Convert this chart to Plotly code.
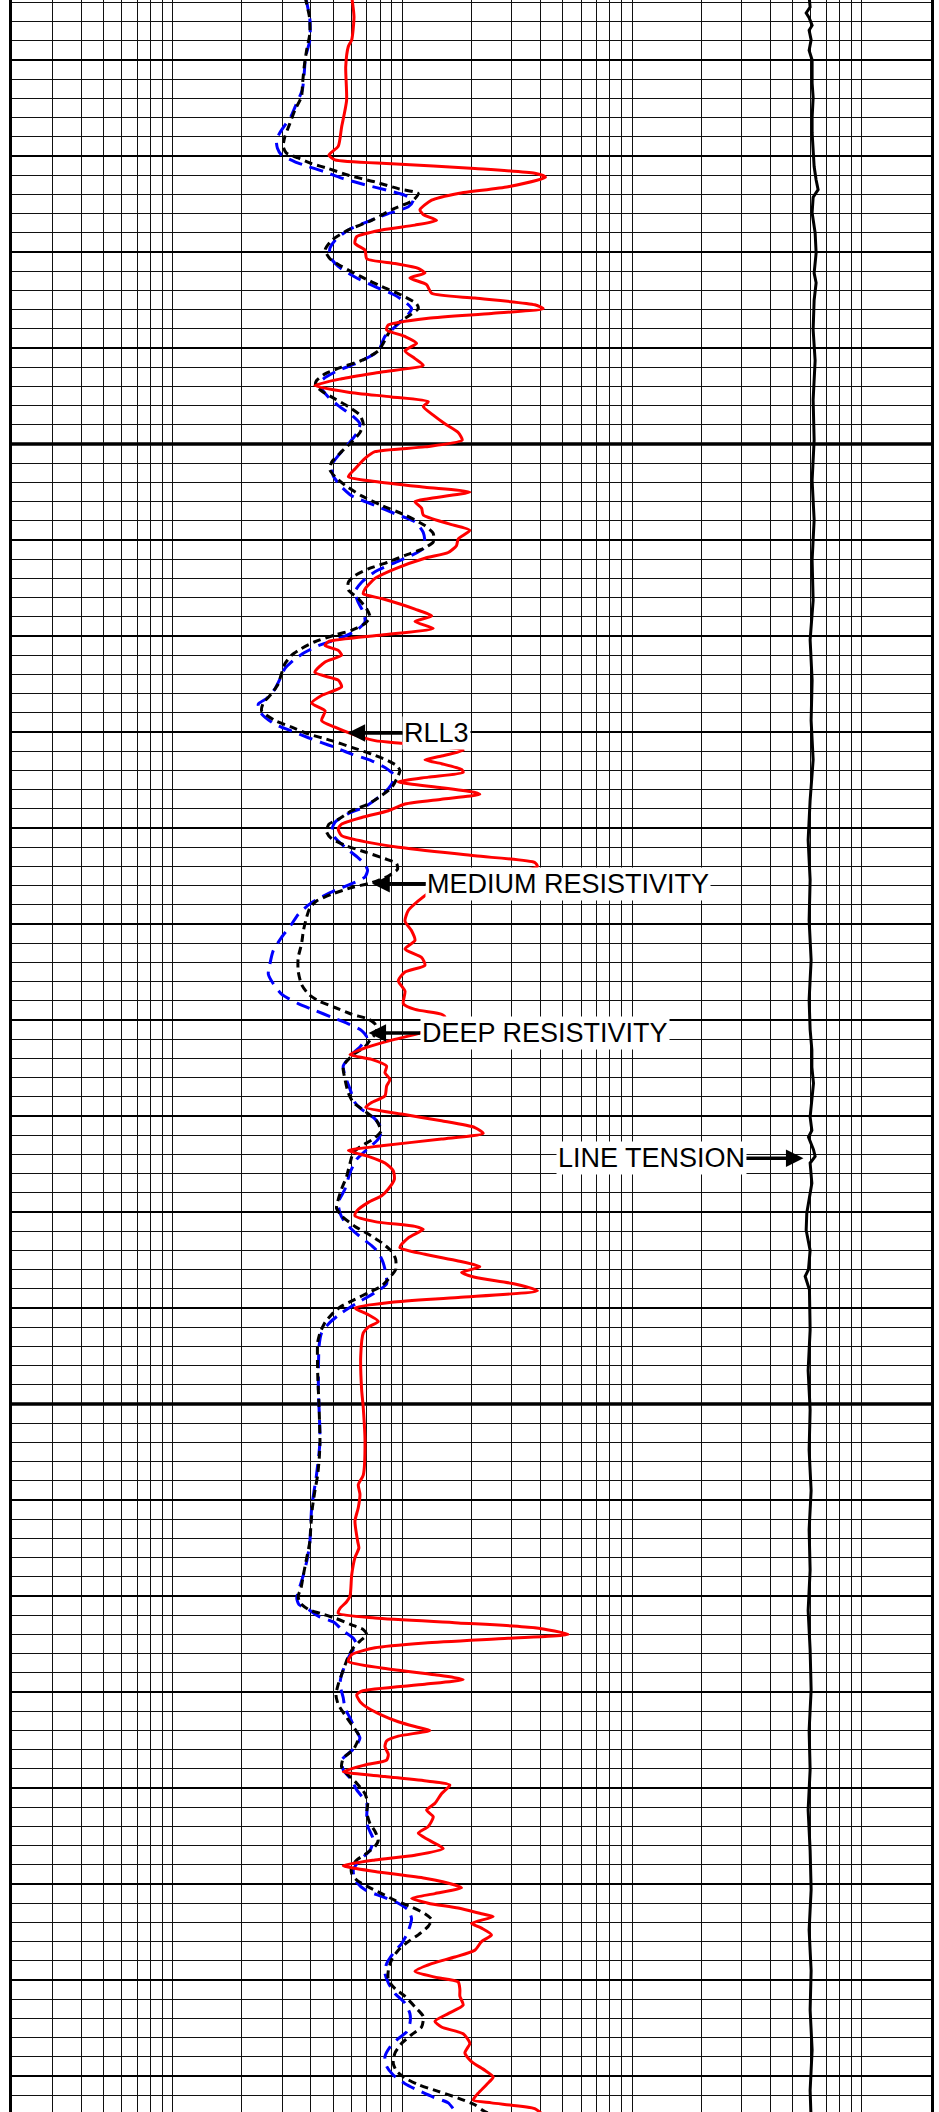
import math
import plotly.graph_objects as go

# ---------------- data (depth ft, value) ----------------
rll3 = [
    (5053.4, 60.2), (5055.5, 61.6), (5057.9, 60.2), (5058.6, 58.2), (5060.7, 56.7), (5064.2, 57.2),
    (5067.0, 54.4), (5069.0, 52.6), (5069.9, 47.9), (5070.4, 50.9), (5070.8, 89.8), (5071.3, 206.8),
    (5071.8, 377), (5072.2, 420), (5073.2, 288.8), (5073.9, 175), (5074.6, 134.1), (5075.6, 119.3),
    (5076.1, 123.3), (5076.7, 140.9), (5077.2, 113.5), (5077.7, 81.3), (5078.4, 63.3), (5079.1, 62.2),
    (5079.8, 68.8), (5080.7, 70.0), (5081.2, 92.9), (5081.7, 117.3), (5082.2, 125.4), (5082.7, 107.9),
    (5083.4, 127.5), (5084.3, 134.1), (5084.8, 206.8), (5085.5, 377), (5085.9, 410), (5086.4, 244.4),
    (5086.9, 129.7), (5087.6, 86.9), (5088.1, 85.4), (5088.8, 102.7), (5089.5, 115.4), (5090.3, 102.7),
    (5091.1, 113.5), (5091.8, 123.3), (5092.5, 81.3), (5093.2, 54.4), (5093.9, 41.6), (5094.6, 58.2),
    (5095.1, 89.8), (5095.6, 129.7), (5096.1, 123.3), (5097.0, 136.3), (5097.9, 153.2), (5098.8, 175),
    (5099.6, 182.2), (5100.3, 125.4), (5100.8, 76.0), (5101.5, 68.8), (5102.6, 62.2), (5103.4, 58.2),
    (5103.9, 76.0), (5104.5, 125.4), (5105.0, 196.7), (5105.7, 129.7), (5106.0, 113.5), (5106.7, 121.3),
    (5107.4, 123.3), (5108.3, 158.4), (5109.0, 196.7), (5109.9, 175), (5110.6, 172), (5111.3, 158.4),
    (5111.9, 125.4), (5113.0, 92.9), (5114.0, 76.0), (5115.1, 68.8), (5115.6, 67.6), (5116.1, 81.3),
    (5117.2, 113.5), (5117.9, 134.1), (5118.5, 113.5), (5119.2, 136.3), (5119.9, 81.3), (5120.6, 47.6),
    (5121.0, 46.1), (5121.5, 52.6), (5122.0, 54.4), (5122.7, 46.1), (5123.8, 41.6), (5124.6, 52.6),
    (5125.3, 54.4), (5126.2, 44.5), (5127.0, 40.3), (5127.8, 46.1), (5128.8, 44.5), (5129.5, 50.9),
    (5130.2, 60.2), (5130.9, 76.0), (5131.2, 102.7), (5131.9, 184), (5132.5, 148.1), (5132.9, 125.4),
    (5133.3, 148.1), (5133.9, 181), (5134.2, 184), (5134.7, 129.7), (5135.2, 96.0), (5135.8, 148.1),
    (5136.3, 206.8), (5136.5, 217.4), (5137.0, 148.1), (5137.5, 102.7), (5138.2, 86.9), (5138.9, 66.5),
    (5139.6, 54.4), (5140.1, 52.6), (5140.8, 54.4), (5141.5, 71.1), (5142.0, 96.0), (5142.9, 206.8),
    (5143.6, 377), (5144.0, 387), (5146.7, 131.9), (5147.6, 117.3), (5148.6, 106.1), (5149.7, 102.7),
    (5150.7, 109.7), (5151.7, 113.5), (5152.6, 102.7), (5153.5, 121.3), (5154.3, 125.4), (5155.0, 102.7),
    (5155.9, 96.0), (5157.0, 102.7), (5158.3, 101.0), (5158.9, 113.5), (5159.4, 148.1), (5159.7, 153.2),
    (5161.3, 121.3), (5162.1, 89.8), (5162.8, 71.1), (5163.6, 59.2), (5164.1, 73.5), (5164.8, 85.4),
    (5165.5, 84.0), (5166.2, 88.3), (5166.9, 85.4), (5167.9, 84.0), (5168.6, 73.5), (5169.1, 69.3),
    (5169.8, 99.3), (5170.5, 148.1), (5171.2, 206.8), (5171.8, 224.8), (5172.4, 148.1), (5173.1, 81.3),
    (5173.6, 58.2), (5174.2, 71.1), (5174.9, 84.0), (5175.7, 91.3), (5176.6, 92.3), (5177.6, 86.9),
    (5178.3, 81.3), (5179.0, 71.1), (5179.9, 63.3), (5180.4, 62.2), (5181.0, 76.0), (5181.5, 113.5),
    (5181.8, 123.3), (5182.7, 106.1), (5183.7, 97.6), (5184.4, 125.4), (5185.1, 175), (5185.7, 217.4),
    (5186.3, 181), (5186.8, 206.8), (5187.5, 308.7), (5188.2, 387), (5188.9, 175), (5189.4, 89.8),
    (5190.0, 62.2), (5190.7, 71.1), (5191.4, 78.6), (5192.0, 71.1), (5192.6, 67.6), (5195.0, 65.9),
    (5198.5, 66.5), (5200.4, 67.6), (5203.9, 68.8), (5207.4, 67.6), (5208.4, 64.3), (5209.4, 65.4),
    (5210.8, 64.3), (5212.2, 62.2), (5214.3, 63.9), (5215.0, 64.7), (5216.0, 62.2), (5217.8, 60.2),
    (5220.0, 59.2), (5220.6, 57.2), (5221.3, 53.5), (5221.8, 52.6), (5222.3, 76.0), (5222.8, 175),
    (5223.3, 377), (5224.0, 527), (5224.4, 288.8), (5224.9, 125.4), (5225.4, 76.0), (5226.1, 60.2),
    (5226.8, 58.2), (5227.5, 81.3), (5228.2, 138.6), (5228.7, 184), (5229.2, 125.4), (5229.9, 66.5),
    (5230.3, 63.3), (5231.0, 65.4), (5231.7, 71.1), (5232.4, 81.3), (5233.1, 96.0), (5233.6, 113.5),
    (5234.0, 131.9), (5234.6, 96.0), (5235.1, 85.4), (5235.7, 84.0), (5236.5, 86.9), (5237.1, 85.4),
    (5237.6, 68.8), (5238.3, 55.3), (5238.8, 84.0), (5239.3, 129.7), (5239.7, 161), (5240.6, 148.1),
    (5241.6, 138.6), (5242.3, 127.5), (5243.0, 136.3), (5244.0, 129.7), (5244.7, 117.3), (5245.4, 129.7),
    (5246.3, 150.6), (5247.0, 113.5), (5247.5, 76.0), (5248.1, 55.3), (5248.7, 76.0), (5249.4, 125.4),
    (5250.1, 169.3), (5250.4, 181), (5251.0, 138.6), (5251.5, 109.7), (5252.0, 129.7), (5252.5, 175),
    (5253.1, 221.1), (5253.4, 248.5), (5254.1, 200), (5254.6, 221.1), (5255.3, 244.4), (5256.0, 221.1),
    (5256.9, 206.8), (5257.6, 169.3), (5258.3, 134.1), (5259.1, 113.5), (5259.7, 138.6), (5260.2, 175),
    (5261.0, 178), (5261.7, 178), (5262.6, 184), (5263.5, 158.4), (5264.3, 138.6), (5264.9, 148.1),
    (5265.6, 184), (5266.6, 196.7), (5267.6, 187.1), (5268.5, 200), (5269.4, 228.6), (5270.1, 248.5),
    (5270.9, 232.4), (5271.8, 213.8), (5272.5, 203.4), (5272.8, 244.4), (5273.4, 377), (5273.9, 403),
]

deep_res = [
    (5053.4, 37.7), (5055.5, 39.4), (5057.2, 39.6), (5059.0, 38.3), (5060.7, 37.4), (5062.4, 36.8),
    (5063.8, 36.4), (5065.2, 34.1), (5066.6, 32.4), (5068.0, 30.8), (5069.0, 30.3), (5069.7, 31.3),
    (5070.2, 35.2), (5070.8, 40.3), (5071.3, 47.6), (5072.0, 58.2), (5072.7, 76.0), (5073.4, 96.0),
    (5073.9, 117.3), (5074.6, 111.6), (5075.6, 89.8), (5076.7, 73.5), (5077.7, 58.2), (5078.8, 49.2),
    (5079.8, 46.1), (5080.7, 48.4), (5081.5, 54.4), (5082.6, 66.5), (5083.6, 81.3), (5084.5, 99.3),
    (5085.4, 115.4), (5085.9, 117.3), (5086.7, 106.1), (5087.6, 92.9), (5088.5, 86.9), (5089.5, 82.6),
    (5090.3, 78.6), (5091.3, 66.5), (5092.0, 54.4), (5092.7, 46.1), (5093.4, 42.3), (5093.9, 41.9),
    (5094.6, 45.3), (5095.3, 50.9), (5096.1, 58.2), (5097.0, 65.4), (5097.9, 67.6), (5098.8, 65.4),
    (5099.8, 60.2), (5100.8, 54.4), (5101.9, 49.2), (5102.7, 48.4), (5103.4, 50.9), (5104.3, 56.3),
    (5105.4, 66.5), (5106.4, 81.3), (5107.4, 102.7), (5108.5, 125.4), (5109.3, 136.3), (5110.2, 136.3),
    (5110.9, 123.3), (5111.6, 102.7), (5112.3, 86.9), (5113.0, 71.1), (5113.7, 62.2), (5114.4, 58.2),
    (5115.2, 58.2), (5116.1, 64.3), (5117.2, 70.0), (5118.0, 72.3), (5118.7, 68.8), (5119.4, 60.2),
    (5119.9, 50.9), (5120.6, 41.6), (5121.3, 36.4), (5122.0, 33.0), (5122.9, 30.8), (5123.9, 29.8),
    (5125.0, 28.8), (5126.0, 27.0), (5127.0, 24.8), (5127.8, 24.4), (5128.8, 27.9), (5129.5, 33.0),
    (5130.2, 39.0), (5130.9, 49.2), (5131.6, 60.2), (5132.3, 73.5), (5133.0, 86.9), (5133.5, 94.4),
    (5134.0, 97.6), (5134.9, 94.4), (5135.8, 89.8), (5136.6, 81.3), (5137.5, 71.1), (5138.2, 60.2),
    (5139.1, 52.6), (5139.6, 47.9), (5140.4, 46.8), (5141.1, 49.2), (5141.8, 56.3), (5142.5, 68.8),
    (5143.2, 84.0), (5143.7, 94.4), (5144.3, 95.3), (5145.0, 86.9), (5145.7, 73.5), (5146.2, 60.2),
    (5146.9, 49.2), (5147.6, 42.3), (5148.3, 39.6), (5149.3, 38.3), (5150.7, 37.1), (5152.1, 36.4),
    (5153.5, 35.2), (5154.9, 35.2), (5156.3, 36.4), (5157.3, 39.0), (5158.0, 43.1), (5158.7, 50.9),
    (5159.4, 60.2), (5159.9, 71.1), (5160.4, 76.0), (5160.9, 77.3), (5161.5, 76.0), (5162.1, 72.3),
    (5162.8, 68.8), (5163.6, 61.2), (5164.8, 55.3), (5166.2, 56.3), (5167.6, 58.2), (5168.6, 61.2),
    (5169.5, 68.8), (5170.5, 77.3), (5171.6, 80.7), (5172.4, 74.8), (5173.1, 66.5), (5173.8, 61.2),
    (5174.9, 59.2), (5176.3, 57.2), (5177.6, 54.4), (5178.7, 52.6), (5179.6, 51.7), (5180.4, 54.4),
    (5181.5, 62.2), (5182.3, 71.1), (5183.2, 81.3), (5184.1, 89.8), (5184.9, 93.5), (5186.0, 93.5),
    (5186.8, 88.3), (5187.7, 81.3), (5188.4, 71.1), (5189.1, 62.2), (5189.8, 54.4), (5190.5, 50.0),
    (5191.5, 46.1), (5192.6, 43.8), (5193.6, 42.8), (5196.7, 42.8), (5200.3, 43.4), (5203.9, 43.8),
    (5205.6, 43.5), (5207.4, 42.8), (5209.1, 41.6), (5210.8, 40.6), (5212.6, 40.0), (5214.3, 39.6),
    (5216.1, 38.3), (5217.8, 37.1), (5219.2, 36.2), (5220.0, 35.2), (5220.7, 35.8), (5221.4, 39.0),
    (5221.8, 43.8), (5222.3, 50.9), (5223.0, 60.2), (5223.5, 67.6), (5224.0, 70.0), (5224.7, 65.4),
    (5225.4, 61.2), (5226.3, 58.2), (5227.2, 56.3), (5228.2, 54.4), (5229.2, 52.6), (5230.3, 51.4),
    (5231.3, 52.6), (5232.4, 56.3), (5233.4, 60.2), (5234.4, 64.3), (5235.1, 63.9), (5236.0, 61.2),
    (5236.9, 55.3), (5237.8, 54.4), (5238.5, 57.2), (5239.5, 63.3), (5240.6, 68.8), (5241.6, 70.7),
    (5242.6, 70.0), (5243.7, 72.3), (5244.5, 76.0), (5245.4, 78.6), (5246.1, 76.0), (5246.8, 70.0),
    (5247.5, 63.3), (5248.2, 60.2), (5248.9, 60.2), (5249.6, 63.3), (5250.3, 71.1), (5251.0, 81.3),
    (5251.7, 92.9), (5252.4, 109.7), (5253.1, 125.4), (5253.7, 134.1), (5254.4, 129.7), (5255.3, 117.3),
    (5256.0, 106.1), (5256.9, 96.0), (5257.9, 89.8), (5259.0, 86.9), (5260.0, 86.9), (5260.9, 92.9),
    (5261.7, 102.7), (5262.8, 113.5), (5263.8, 123.3), (5264.9, 121.3), (5265.7, 109.7), (5266.6, 99.3),
    (5267.6, 92.9), (5268.7, 91.3), (5269.5, 94.4), (5270.2, 102.7), (5270.9, 117.3), (5271.6, 143.3),
    (5272.3, 175), (5273.0, 206.8), (5273.6, 224.8), (5274.2, 252.6),
]

medium_res = [
    (5053.4, 37.9), (5055.8, 39.6), (5057.9, 39.6), (5059.7, 37.9), (5061.4, 37.4), (5063.1, 36.7),
    (5064.9, 34.1), (5065.9, 32.7), (5067.3, 29.8), (5068.3, 28.3), (5069.2, 28.6), (5069.9, 29.8),
    (5070.6, 34.1), (5071.1, 39.0), (5071.6, 45.3), (5072.3, 54.4), (5073.0, 68.8), (5073.6, 86.9),
    (5074.1, 102.7), (5074.6, 111.6), (5075.3, 106.1), (5076.0, 86.9), (5076.8, 71.1), (5077.7, 58.2),
    (5078.8, 50.9), (5079.6, 48.4), (5080.5, 48.4), (5081.5, 52.6), (5082.6, 62.2), (5083.6, 76.0),
    (5084.5, 92.9), (5085.2, 102.7), (5085.9, 109.7), (5086.7, 104.4), (5087.8, 92.9), (5088.8, 84.0),
    (5090.3, 78.6), (5091.5, 64.3), (5092.5, 50.9), (5093.4, 44.5), (5094.2, 44.5), (5095.1, 47.6),
    (5096.0, 52.6), (5097.0, 60.2), (5097.9, 65.4), (5098.9, 63.3), (5100.0, 58.2), (5101.0, 53.5),
    (5102.2, 49.2), (5103.3, 50.0), (5104.3, 53.5), (5105.4, 60.2), (5106.4, 76.0), (5107.4, 96.0),
    (5108.1, 113.5), (5109.2, 123.3), (5110.2, 125.4), (5110.9, 123.3), (5111.6, 109.7), (5112.5, 89.8),
    (5113.3, 76.0), (5114.4, 66.5), (5115.4, 62.2), (5116.5, 64.3), (5117.5, 67.6), (5118.5, 68.8),
    (5119.4, 63.3), (5120.3, 52.6), (5121.0, 43.1), (5121.7, 37.7), (5122.4, 34.1), (5123.4, 30.8),
    (5124.5, 29.3), (5125.5, 27.9), (5126.5, 25.7), (5127.1, 23.6), (5128.1, 24.4), (5129.2, 27.9),
    (5129.9, 33.0), (5130.6, 39.0), (5131.1, 44.5), (5131.6, 50.9), (5132.3, 60.2), (5133.0, 73.5),
    (5133.7, 84.0), (5134.4, 91.3), (5135.1, 91.3), (5135.9, 86.9), (5136.8, 78.6), (5137.8, 68.8),
    (5138.5, 58.2), (5139.4, 50.9), (5140.3, 49.2), (5141.0, 50.9), (5142.0, 56.3), (5143.1, 64.3),
    (5143.8, 68.8), (5144.4, 70.6), (5145.1, 68.8), (5145.8, 60.2), (5146.5, 50.9), (5147.2, 44.5),
    (5147.9, 39.6), (5149.0, 35.2), (5150.0, 33.0), (5151.4, 29.8), (5152.8, 27.4), (5154.2, 26.5),
    (5155.2, 26.1), (5156.2, 27.4), (5157.3, 29.8), (5158.3, 35.2), (5159.0, 41.6), (5159.7, 49.2),
    (5160.4, 58.2), (5161.1, 66.5), (5161.8, 70.0), (5162.8, 65.4), (5163.6, 60.2), (5164.8, 55.3),
    (5165.8, 56.3), (5167.2, 59.2), (5168.6, 62.2), (5169.3, 66.5), (5170.3, 76.0), (5171.4, 81.3),
    (5172.4, 78.6), (5173.5, 70.0), (5174.5, 63.3), (5175.9, 59.2), (5177.6, 56.3), (5179.0, 52.6),
    (5180.1, 53.5), (5181.1, 56.3), (5181.8, 60.2), (5182.7, 66.5), (5183.5, 73.5), (5184.2, 78.6),
    (5185.3, 82.6), (5186.3, 84.6), (5187.5, 85.4), (5188.4, 76.0), (5189.4, 64.3), (5190.5, 54.4),
    (5191.5, 48.4), (5192.6, 44.5), (5194.0, 43.4), (5198.5, 43.1), (5200.4, 43.4), (5203.9, 43.8),
    (5207.4, 42.3), (5210.8, 40.3), (5214.3, 39.6), (5216.1, 38.6), (5217.8, 37.1), (5219.3, 35.5),
    (5220.2, 34.7), (5220.9, 35.5), (5221.4, 39.0), (5222.1, 43.1), (5222.8, 50.9), (5223.5, 54.4),
    (5224.4, 61.2), (5225.1, 63.3), (5225.8, 60.2), (5226.8, 57.2), (5228.2, 54.4), (5229.2, 53.5),
    (5230.6, 55.3), (5231.7, 56.3), (5232.7, 59.2), (5233.8, 62.2), (5234.8, 65.4), (5235.8, 62.2),
    (5236.7, 56.3), (5237.1, 54.4), (5238.1, 55.3), (5239.2, 60.2), (5240.2, 63.3), (5241.6, 70.0),
    (5243.0, 70.0), (5244.0, 70.7), (5245.4, 74.8), (5246.5, 72.3), (5247.5, 65.4), (5248.5, 61.2),
    (5249.6, 62.2), (5250.6, 68.8), (5251.3, 81.3), (5252.0, 96.0), (5252.7, 106.1), (5253.6, 109.7),
    (5254.4, 107.9), (5255.3, 104.4), (5256.2, 99.3), (5257.2, 91.3), (5258.3, 85.4), (5259.3, 84.0),
    (5260.3, 86.9), (5261.4, 92.9), (5262.4, 102.7), (5263.5, 107.9), (5264.5, 107.9), (5265.4, 104.4),
    (5266.1, 96.0), (5267.0, 88.3), (5268.0, 84.0), (5269.0, 85.4), (5269.9, 91.3), (5270.8, 102.7),
    (5271.5, 117.3), (5272.2, 136.3), (5272.8, 158.4), (5273.6, 169.3), (5274.2, 184),
]

line_tension = [
    (5053.4, 5896), (5054.5, 5956), (5055.1, 5724), (5055.6, 5896), (5056.4, 6076), (5056.9, 5896),
    (5057.9, 6016), (5059.0, 5896), (5060.0, 6076), (5062.4, 6076), (5063.9, 6138), (5066.0, 6076),
    (5067.6, 6076), (5069.4, 6138), (5071.1, 6200), (5072.5, 6325), (5073.5, 6452), (5074.3, 6138),
    (5075.9, 6076), (5078.0, 6262), (5080.1, 6325), (5082.2, 6200), (5083.2, 6325), (5085.0, 6200),
    (5088.1, 6138), (5091.3, 6262), (5095.4, 6138), (5099.6, 6200), (5103.8, 6076), (5107.9, 6200),
    (5112.1, 6076), (5116.3, 6138), (5120.4, 5956), (5124.6, 6076), (5128.8, 6016), (5132.9, 6138),
    (5137.1, 5956), (5141.25, 5838), (5145.4, 5956), (5149.6, 5896), (5153.75, 6016), (5157.9, 5896),
    (5161.0, 5956), (5163.1, 6060), (5164.9, 6060), (5166.6, 6160), (5168.3, 6060), (5170.1, 5956),
    (5171.5, 6060), (5172.2, 5857), (5173.5, 6160), (5174.2, 6262), (5174.9, 5956), (5177.0, 6060),
    (5179.1, 5857), (5180.1, 5760), (5181.9, 5724), (5184.0, 5956), (5186.0, 5857), (5186.7, 5666),
    (5188.1, 5915), (5192.3, 5956), (5196.5, 5838), (5200.6, 5956), (5204.8, 5896), (5209.0, 6016),
    (5213.1, 5896), (5217.3, 5956), (5221.5, 5838), (5225.6, 5956), (5229.8, 6016), (5234.0, 5896),
    (5238.1, 5956), (5242.3, 5838), (5246.5, 5956), (5250.6, 6016), (5254.8, 5896), (5259.0, 6016),
    (5263.1, 5956), (5267.3, 6076), (5271.5, 5956), (5274.6, 6016),
]

x_grid_values = [m * 10 ** e for e in range(0, 5) for m in range(1, 10)
                 if 2 < m * 10 ** e < 20000]
x_range_values = [2, 20000]
depth_top, depth_bottom = 5053.75, 5273.75
heavy_depths = [5100, 5200]

labels = [
    # text, target value, target depth, text offset px (ax)
    ("RLL3", 57.8, 5130.1, 89),
    ("MEDIUM RESISTIVITY", 74.0, 5145.8, 196),
    ("DEEP RESISTIVITY", 71.3, 5161.35, 176),
    ("LINE TENSION", 5570, 5174.4, -152),
]

# ---------------- figure ----------------
fig = go.Figure()


def add_curve(pairs, color, width, dash=None, shape="spline"):
    fig.add_trace(go.Scatter(
        x=[v for _, v in pairs], y=[d for d, _ in pairs], mode="lines",
        line=dict(color=color, width=width, dash=dash, shape=shape,
                  smoothing=0.6 if shape == "spline" else None),
        hoverinfo="skip", showlegend=False))


add_curve(medium_res, "#0000ff", 3, dash="14px,8px")
add_curve(deep_res, "#000000", 3, dash="8px,5px")
add_curve(rll3, "#ff0000", 3)
add_curve(line_tension, "#000000", 3, shape="linear")

for d in heavy_depths:
    fig.add_shape(type="line", xref="paper", x0=0, x1=1, yref="y", y0=d, y1=d,
                  line=dict(color="black", width=3.5), layer="below")

for text, val, dep, ax in labels:
    fig.add_annotation(
        x=math.log10(val), y=dep, xref="x", yref="y", text=text,
        showarrow=True, ax=ax, ay=0, axref="pixel", ayref="pixel",
        arrowhead=2, arrowsize=1.0, arrowwidth=3.5, arrowcolor="black", standoff=0,
        font=dict(family="Liberation Sans, Arial", size=27, color="black"),
        bgcolor="white", borderpad=1)

fig.update_xaxes(
    type="log", range=[math.log10(x_range_values[0]), math.log10(x_range_values[1])],
    tickmode="array", tickvals=x_grid_values, showticklabels=False, ticks="",
    showgrid=True, gridcolor="#111111", gridwidth=1, zeroline=False, showline=False)

fig.update_yaxes(
    range=[depth_bottom, depth_top], tick0=5060, dtick=10, showticklabels=False, ticks="",
    showgrid=True, gridcolor="black", gridwidth=2, zeroline=False,
    minor=dict(dtick=2, tick0=5060, showgrid=True, gridcolor="#111111", gridwidth=1, ticks=""),
    showline=True, mirror=True, linecolor="black", linewidth=3)

fig.update_layout(
    width=939, height=2112, margin=dict(l=12, r=8, t=0, b=0),
    paper_bgcolor="white", plot_bgcolor="white", showlegend=False)

fig.write_html("out.html", config={"displayModeBar": False},
               post_script="document.body.style.margin='0px';document.body.style.overflow='hidden';")
